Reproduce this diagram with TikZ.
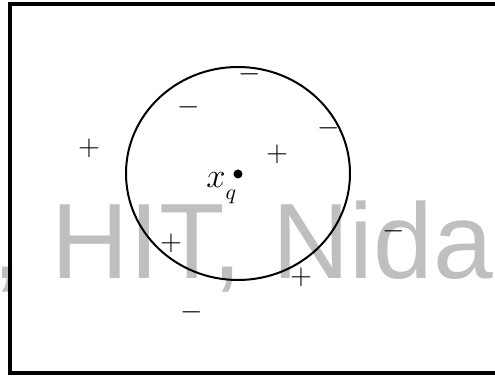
\documentclass[tikz,border=0pt]{standalone}
\usepackage{fontspec}
\newfontfamily\wmfont{Liberation Sans}
\newcommand{\signsize}{\fontsize{13.5}{16}\selectfont}

\begin{document}
\begin{tikzpicture}[x=0.5pt, y=-0.5pt,
    sign/.style={font=\signsize, inner sep=0pt, outer sep=0pt},
    frame/.style={draw=black, line width=2pt},
    wmark/.style={font=\wmfont\fontsize{53.6}{60}\selectfont, text=black!25, inner sep=0pt, anchor=base west},
    query/.style={circle, fill=black, inner sep=0pt, minimum size=4.5pt},
]
\useasboundingbox (0,0) rectangle (495,378);

% Watermark behind everything
\node[wmark] (wm) at (-8,279) {, HIT, Nida};

% Frame (right side runs off the page)
\draw[frame] (10.5,4.5) rectangle (530,373);

% Neighbourhood round the query point
\draw[line width=1pt] (238,173.5) ellipse [x radius=112, y radius=106.5];
\node[query] (xq) at (238,174) {};
\node[font=\fontsize{16}{18}\selectfont, inner sep=0pt, anchor=base west] (xqlbl) at (206,188) {$x_{\lower3pt\hbox{$\scriptstyle q$}}$};

% Negative examples
\foreach \x/\y [count=\i] in {250/74, 189/107, 329/128, 394/231, 192/312} {
    \node[sign] (neg\i) at (\x,\y) {$-$};
}

% Positive examples
\foreach \x/\y [count=\i] in {89/148, 277/154, 171/243, 301/277} {
    \node[sign] (pos\i) at (\x,\y) {$+$};
}

\end{tikzpicture}
\end{document}
